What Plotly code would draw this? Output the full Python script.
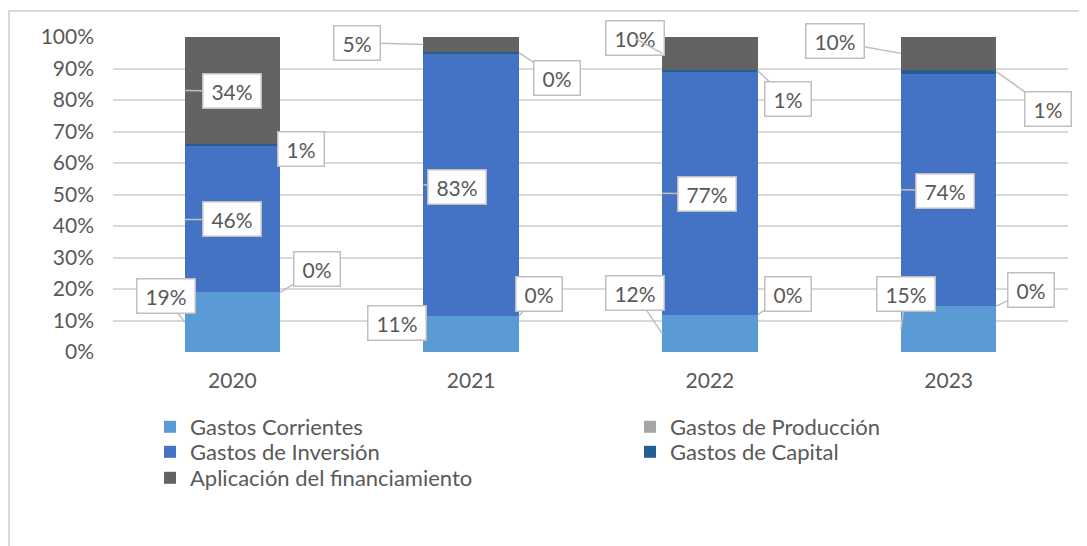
import plotly.graph_objects as go

# ---- data ----
years = ["2020", "2021", "2022", "2023"]
series_names = ["Gastos Corrientes", "Gastos de Producción", "Gastos de Inversión",
                "Gastos de Capital", "Aplicación del financiamiento"]
gastos_corrientes = [18.9, 11.4, 11.8, 14.6]
gastos_produccion = [0.0, 0.0, 0.0, 0.0]
gastos_inversion = [46.4, 83.4, 77.4, 73.8]
gastos_capital = [0.8, 0.4, 0.6, 1.2]
aplicacion_financiamiento = [33.9, 4.8, 10.4, 10.4]
y_ticks = [0, 10, 20, 30, 40, 50, 60, 70, 80, 90, 100]
y_tick_labels = [f"{t}%" for t in y_ticks]

series_values = [gastos_corrientes, gastos_produccion, gastos_inversion,
                 gastos_capital, aplicacion_financiamiento]

# ---- styles ----
colors = ["#5B9BD5", "#A5A5A5", "#4472C4", "#255E91", "#636363"]
FONT = "Lato"
TXT = "#595959"
GRID = "#D9D9D9"
BAR_W = 0.4

# label anchors: edge side (-1 left / +1 right), anchor at segment mid (True) or top (False)
anchor_side = [-1, 1, -1, 1, -1]
anchor_mid = [True, False, True, True, True]
# callout box offsets (pixels) per series per year
label_offsets = [
    [(-19, -26), (-26, -11), (-27, -40), (5, -35)],
    [(37, -23), (20, -22), (30, -21), (35, -16)],
    [(47, 0), (34, 2), (45, 1), (44, 1)],
    [(21, 4), (38, 25), (30, 28), (52, 37)],
    [(47, 1), (-66, -2), (-27, -15), (-66, -12)],
]

# page offset (browser body margin)
OFF = 8
W, H = 1087 - OFF, 546 - OFF
# plot area in screen pixels
SX0, SX1, SY0, SY1 = 113, 1068, 37, 352
L = SX0 - OFF
R = W - (SX1 - OFF)
T = SY0 - OFF
B = H - (SY1 - OFF)
pw, ph = W - L - R, H - T - B


def px(xs):
    return (xs - OFF - L) / pw


def py(ys):
    return (H - B - (ys - OFF)) / ph


# legend entry positions (screen px, top-left of legend box)
legend_pos = [(150, 406), (630, 406), (150, 431), (630, 431), (150, 457)]
legend_ids = ["legend", "legend2", "legend3", "legend4", "legend5"]

fig = go.Figure()
for name, vals, col, lid in zip(series_names, series_values, colors, legend_ids):
    fig.add_trace(go.Bar(name=name, x=years, y=vals, marker=dict(color=col, line=dict(width=0)),
                         width=BAR_W, legend=lid))

# normalized cumulative values for callout anchors
totals = [sum(s[i] for s in series_values) for i in range(len(years))]
annotations = []
for i in range(len(years)):
    base = 0.0
    for k, vals in enumerate(series_values):
        v = vals[i] / totals[i] * 100
        ya = base + v / 2 if anchor_mid[k] else base + v
        xa = i + anchor_side[k] * BAR_W / 2
        txt = f"{round(vals[i]):.0f}%"
        ax, ay = label_offsets[k][i]
        ndig = len(txt) - 1
        annotations.append(dict(
            x=xa, y=ya, xref="x", yref="y", text=txt, showarrow=True,
            ax=ax, ay=ay, arrowhead=0, arrowwidth=1.5, arrowcolor="#BFBFBF",
            standoff=0, startstandoff=0,
            bgcolor="white", bordercolor="#BFBFBF", borderwidth=1.5, borderpad=4,
            width=12 * ndig + 25, align="center",
            font=dict(family=FONT, size=21, color=TXT)))
        base += v

shapes = [
    dict(type="line", xref="paper", yref="paper", x0=px(OFF), x1=px(1100), y0=py(11), y1=py(11),
         line=dict(color=GRID, width=2)),
    dict(type="line", xref="paper", yref="paper", x0=px(OFF + 1), x1=px(OFF + 1), y0=py(10), y1=py(560),
         line=dict(color=GRID, width=2)),
]

legends = {}
for lid, (lx, ly) in zip(legend_ids, legend_pos):
    legends[lid] = dict(orientation="v", x=px(lx), y=py(ly), xanchor="left", yanchor="top",
                        font=dict(family=FONT, size=22, color=TXT),
                        bgcolor="rgba(0,0,0,0)", borderwidth=0)

fig.update_layout(
    barmode="stack", barnorm="percent",
    width=W, height=H,
    margin=dict(l=L, r=R, t=T, b=B, autoexpand=False),
    paper_bgcolor="white", plot_bgcolor="white",
    font=dict(family=FONT, size=21, color=TXT),
    xaxis=dict(type="category", range=[-0.5, 3.5], showgrid=False, showline=False,
               ticks="", ticklabelstandoff=14, tickfont=dict(size=21, color=TXT)),
    yaxis=dict(range=[0, 100], tickvals=y_ticks, ticktext=y_tick_labels, showgrid=True,
               gridcolor=GRID, gridwidth=1.5, zeroline=False, showline=False, ticks="",
               ticklabelstandoff=18, tickfont=dict(size=21, color=TXT)),
    annotations=annotations,
    shapes=shapes,
    showlegend=True,
    **legends,
)

fig.write_html("out.html")
